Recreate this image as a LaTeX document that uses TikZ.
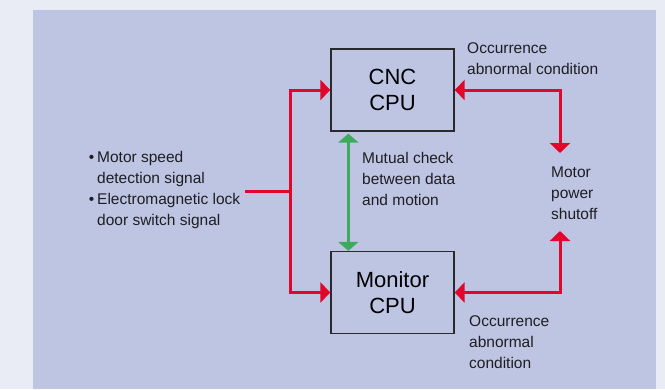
\documentclass[tikz,border=0pt]{standalone}
\usepackage{fontspec}
\setmainfont{Liberation Sans}
\usetikzlibrary{arrows.meta, positioning, calc}
\definecolor{pagebg}{HTML}{E9ECF4}
\definecolor{panelbg}{HTML}{BDC5E3}
\definecolor{sigred}{HTML}{E3062B}
\definecolor{chkgreen}{HTML}{3DAA5E}
\definecolor{boxline}{HTML}{2A2A2E}
\definecolor{txtdark}{HTML}{1E1E22}

\begin{document}
\begin{tikzpicture}[x=1pt, y=-1pt,
  cpubox/.style={draw=boxline, line width=1.3pt, minimum width=123pt, minimum height=82pt,
    inner sep=0pt, align=center, text=black, font=\fontsize{22}{26}\selectfont},
  lbl/.style={anchor=base west, align=left, inner sep=0pt, text=txtdark,
    font=\fontsize{15.5}{21}\selectfont},
  sigline/.style={sigred, line width=3pt},
  sigarrow/.style={sigline, -{Triangle[length=10pt, width=20pt]}},
  sigboth/.style={sigline, {Triangle[length=10pt, width=20pt]}-{Triangle[length=10pt, width=20pt]}},
  chkarrow/.style={chkgreen, line width=3pt, {Triangle[length=9pt, width=20pt]}-{Triangle[length=9pt, width=20pt]}}]

\useasboundingbox (0,0) rectangle (665,389);

% Background
\fill[pagebg] (0,0) rectangle (665,389);
\fill[panelbg] (33,9.5) rectangle (656,389);

% CPUs
\node[cpubox] (cnc) at (392.5,90) {CNC\\CPU};
\node[cpubox] (mon) at (392.5,292.5) {Monitor\\CPU};

% Input signals (base = last line)
\node[lbl] (inputs) at (97,225) {\llap{\textbullet\hspace{3pt}}Motor speed\\detection signal\\
  \llap{\textbullet\hspace{3pt}}Electromagnetic lock\\door switch signal};
\coordinate (infeed) at (245,191);
\coordinate (split) at (290,191);

\draw[sigline] (infeed) -- (split);
\draw[sigarrow] (split) |- (cnc.west);
\draw[sigarrow] (split) |- (mon.west);

% Mutual check
\draw[chkarrow] ([xshift=18pt, yshift=-2pt]cnc.south west) -- ([xshift=18pt]mon.north west);
\node[lbl] (check) at (362,205) {Mutual check\\between data\\and motion};

% Power shutoff
\node[lbl] (shutoff) at (551,219) {Motor\\power\\shutoff};
\coordinate (shutN) at (560,153);
\coordinate (shutS) at (560,231);
\draw[sigboth] (cnc.east) -| (shutN);
\draw[sigboth] (mon.east) -| (shutS);

% Abnormal condition notes
\node[lbl] (abnTop) at (467,74) {Occurrence\\abnormal condition};
\node[lbl] (abnBot) at (469,368) {Occurrence\\abnormal\\condition};

\end{tikzpicture}
\end{document}
